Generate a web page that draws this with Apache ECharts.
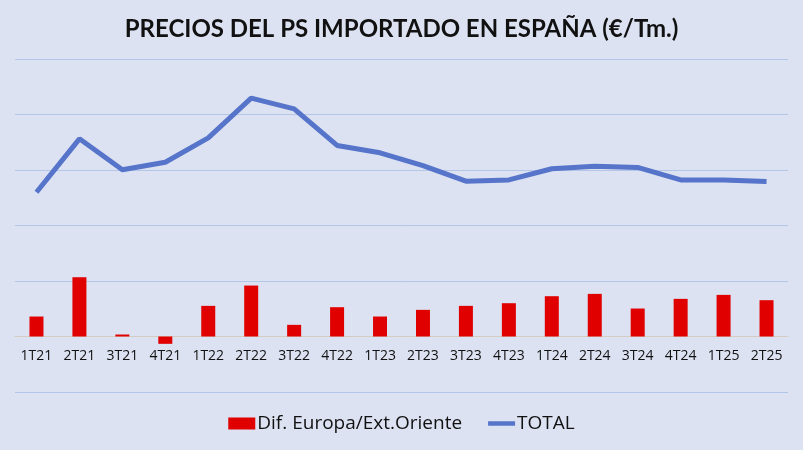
<!DOCTYPE html>
<html>
<head>
<meta charset="utf-8">
<script src="https://cdn.jsdelivr.net/npm/echarts@6/dist/echarts.min.js"></script>
<style>
  html, body { margin: 0; padding: 0; background: #dce2f2; }
  #chart { width: 803px; height: 450px; }
</style>
</head>
<body>
<div id="chart"></div>
<script>
const categories = ['1T21', '2T21', '3T21', '4T21', '1T22', '2T22', '3T22', '4T22', '1T23',
  '2T23', '3T23', '4T23', '1T24', '2T24', '3T24', '4T24', '1T25', '2T25']
const difEuropa = [180, 534, 18, -66, 276, 459, 105, 264, 180,
  240, 276, 300, 363, 384, 252, 339, 375, 327]
const total = [1300, 1781, 1502, 1570, 1790, 2147, 2051, 1721, 1655,
  1540, 1399, 1411, 1511, 1534, 1523, 1411, 1411, 1396]

const chart = echarts.init(document.getElementById('chart'))

chart.setOption({
  backgroundColor: '#dce2f2',
  animation: false,
  title: {
    text: 'PRECIOS DEL PS IMPORTADO EN ESPAÑA (€/Tm.)',
    left: 'center',
    top: 12,
    textStyle: { fontFamily: 'Lato', fontWeight: 'bold', fontSize: 24, color: '#111' }
  },
  legend: {
    bottom: 12,
    left: 'center',
    itemGap: 26,
    itemWidth: 27,
    itemHeight: 12,
    textStyle: { fontFamily: 'Open Sans', fontSize: 19, color: '#111', padding: [0, 0, 0, -3] },
    data: [
      { name: 'Dif. Europa/Ext.Oriente', icon: 'rect' },
      { name: 'TOTAL', icon: 'path://M0,0 L30,0 L30,5 L0,5 Z' }
    ]
  },
  grid: { left: 15, right: 15, top: 59, bottom: 58 },
  xAxis: {
    type: 'category',
    data: categories,
    axisTick: { show: false },
    axisLine: { onZero: true, lineStyle: { color: '#d4ccc0', width: 1 } },
    axisLabel: {
      fontFamily: 'Open Sans', fontSize: 14, color: '#111', margin: -43
    }
  },
  yAxis: {
    type: 'value',
    min: -500,
    max: 2500,
    interval: 500,
    axisLabel: { show: false },
    axisLine: { show: false },
    axisTick: { show: false },
    splitLine: { lineStyle: { color: '#b4c6e8', width: 1 } }
  },
  series: [
    {
      name: 'Dif. Europa/Ext.Oriente',
      type: 'bar',
      data: difEuropa,
      barWidth: 14,
      itemStyle: { color: '#e00000' }
    },
    {
      name: 'TOTAL',
      type: 'line',
      data: total,
      symbol: 'none',
      lineStyle: { color: '#5674c9', width: 5 },
      itemStyle: { color: '#5674c9' }
    }
  ]
})
</script>
</body>
</html>
